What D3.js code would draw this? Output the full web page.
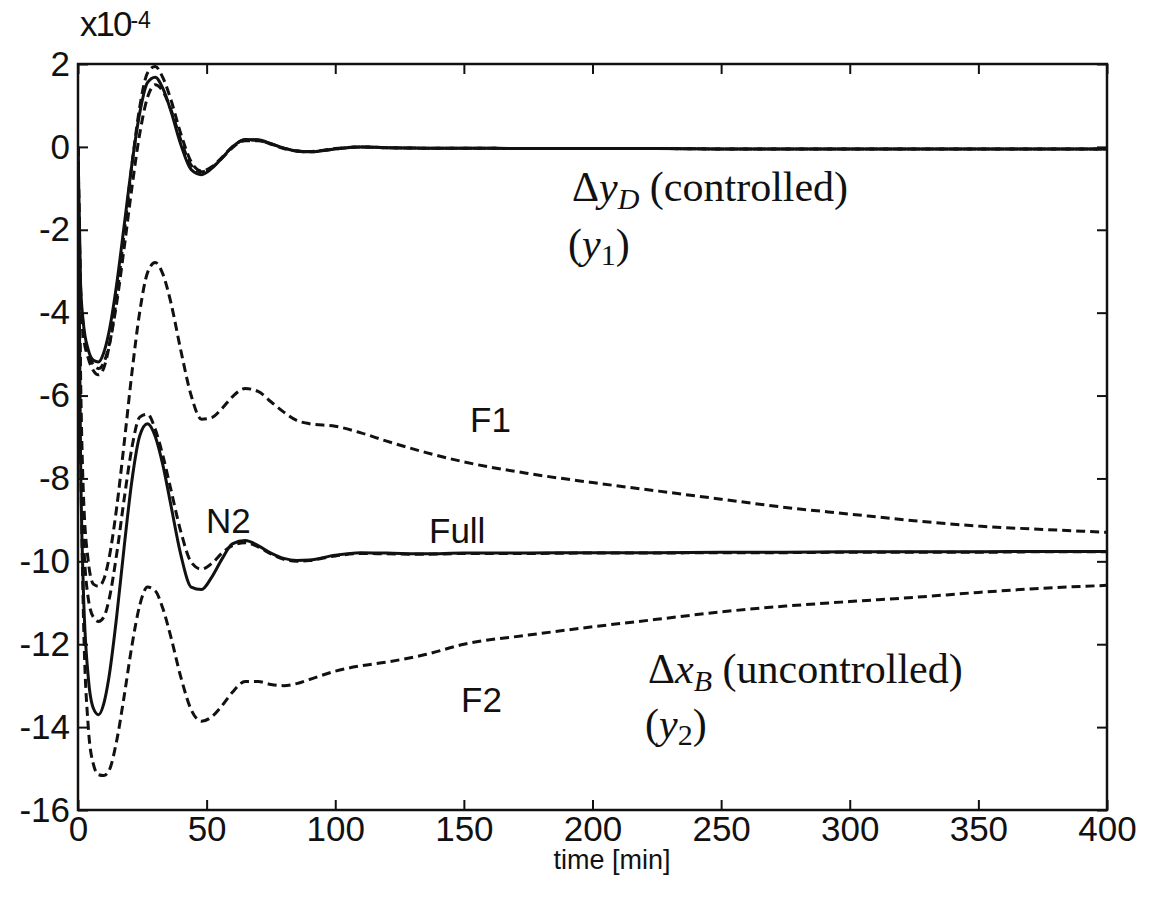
<!DOCTYPE html>
<html lang="en">
<head>
    <meta charset="UTF-8"/>
    <title>Step responses</title>
    <script src="https://d3js.org/d3.v7.min.js"></script>
    <style>
        body { margin: 0; background: #fff; }
        text { font-family: "Liberation Sans", Arial, sans-serif; fill: #111; }
        .tex { font-family: "Liberation Serif", "Times New Roman", serif; }
    </style>
</head>
<body>
<script>
    var w = 1151;
    var h = 919;
    var padLeft = 78, padRight = 1107, padTop = 64, padBottom = 810;

    // time axis samples [min]
    var time = [0, 1, 2, 4, 6, 8, 10, 12, 15, 18, 21, 24, 27, 30, 33, 36, 40, 44, 48, 52, 56, 60,
                65, 70, 75, 80, 85, 90, 100, 110, 120, 135, 150, 175, 200, 225, 250, 275, 300, 325, 350, 375, 400];

    // y1 (controlled output), x1e-4
    var y1Full = [0, -3.3, -4.2, -4.9, -5.15, -5.19, -4.97, -4.48, -3.33, -1.87, -0.40, 0.82, 1.55, 1.68, 1.41, 0.89,
                  0.05, -0.55, -0.67, -0.52, -0.27, 0.0, 0.18, 0.17, 0.08, -0.03, -0.10, -0.12, -0.05, 0.0, -0.02,
                  -0.03, -0.03, -0.04, -0.04, -0.04, -0.05, -0.05, -0.05, -0.05, -0.05, -0.05, -0.05];
    var y1N2 = [0, -3.5, -4.5, -5.1, -5.4, -5.5, -5.34, -4.85, -3.64, -2.05, -0.41, 0.96, 1.78, 1.94, 1.67, 1.16,
                0.31, -0.36, -0.58, -0.48, -0.25, 0.0, 0.17, 0.16, 0.07, -0.04, -0.10, -0.11, -0.04, 0.0, -0.02,
                -0.03, -0.03, -0.04, -0.04, -0.04, -0.05, -0.05, -0.05, -0.05, -0.05, -0.05, -0.05];
    var y1F = [0, -3.4, -4.3, -5.0, -5.25, -5.35, -5.21, -4.81, -3.78, -2.41, -0.96, 0.32, 1.19, 1.50, 1.34, 0.92,
               0.16, -0.44, -0.60, -0.50, -0.27, -0.02, 0.15, 0.15, 0.07, -0.03, -0.10, -0.12, -0.05, 0.0, -0.02,
               -0.03, -0.03, -0.04, -0.04, -0.04, -0.05, -0.05, -0.05, -0.05, -0.05, -0.05, -0.05];

    // y2 (uncontrolled output), x1e-4
    var y2Full = [0, -7.5, -10.5, -12.8, -13.55, -13.7, -13.44, -12.81, -11.35, -9.62, -8.03, -6.97, -6.68, -6.98,
                  -7.68, -8.61, -9.85, -10.62, -10.68, -10.38, -9.94, -9.58, -9.5, -9.62, -9.8, -9.93, -9.98, -9.97,
                  -9.85, -9.79, -9.8, -9.82, -9.8, -9.8, -9.79, -9.79, -9.78, -9.78, -9.77, -9.77, -9.77, -9.76, -9.76];
    var y2N2 = [0, -6.5, -9.2, -10.9, -11.35, -11.45, -11.35, -10.94, -9.84, -8.47, -7.24, -6.52, -6.45, -6.81,
                -7.45, -8.24, -9.29, -10.02, -10.19, -10.05, -9.8, -9.62, -9.55, -9.65, -9.82, -9.95, -10.0, -9.98,
                -9.87, -9.81, -9.82, -9.83, -9.81, -9.81, -9.8, -9.8, -9.79, -9.79, -9.78, -9.78, -9.78, -9.77, -9.77];
    var y2F1 = [0, -5.5, -8.2, -10.0, -10.55, -10.6, -10.44, -9.95, -8.72, -7.12, -5.43, -3.98, -3.04, -2.79,
                -3.07, -3.73, -4.92, -6.0, -6.57, -6.53, -6.31, -6.03, -5.83, -5.9, -6.15, -6.4, -6.6, -6.68,
                -6.74, -6.9, -7.1, -7.37, -7.6, -7.88, -8.1, -8.3, -8.5, -8.7, -8.86, -9.02, -9.15, -9.23, -9.3];
    var y2F2 = [0, -7, -11, -14.0, -14.9, -15.15, -15.17, -15.06, -14.34, -13.23, -12.02, -11.06, -10.62, -10.71,
                -11.14, -11.8, -12.8, -13.58, -13.86, -13.75, -13.48, -13.16, -12.9, -12.9, -12.97, -13.0, -12.95,
                -12.85, -12.65, -12.52, -12.43, -12.25, -12.0, -11.78, -11.58, -11.4, -11.22, -11.08, -10.97,
                -10.87, -10.75, -10.65, -10.58];

    var xTicks = [0, 50, 100, 150, 200, 250, 300, 350, 400];
    var yTicks = [-16, -14, -12, -10, -8, -6, -4, -2, 0, 2];

    var dashedSeries = [y1N2, y1F, y2N2, y2F1, y2F2];
    var solidSeries = [y1Full, y2Full];

    var xScale = d3.scaleLinear().domain([0, 400]).range([padLeft, padRight]);
    var yScale = d3.scaleLinear().domain([-16, 2]).range([padBottom, padTop]);

    var svg = d3.select("body")
        .append("svg")
        .attr("width", w)
        .attr("height", h);

    svg.append("rect")
        .attr("width", w).attr("height", h)
        .attr("fill", "#fff");

    svg.append("clipPath").attr("id", "plot")
        .append("rect")
        .attr("x", padLeft).attr("y", padTop)
        .attr("width", padRight - padLeft).attr("height", padBottom - padTop);

    var line = d3.line()
        .x(function(d, i) { return xScale(time[i]); })
        .y(function(d) { return yScale(d); })
        .curve(d3.curveMonotoneX);

    var plot = svg.append("g").attr("clip-path", "url(#plot)");

    plot.selectAll("path.dash")
        .data(dashedSeries)
        .enter()
        .append("path")
        .attr("class", "dash")
        .attr("d", line)
        .attr("fill", "none")
        .attr("stroke", "#111")
        .attr("stroke-width", 3)
        .attr("stroke-dasharray", "9,5");

    plot.selectAll("path.solid")
        .data(solidSeries)
        .enter()
        .append("path")
        .attr("class", "solid")
        .attr("d", line)
        .attr("fill", "none")
        .attr("stroke", "#111")
        .attr("stroke-width", 3);

    // axes, ticks pointing inward on all four sides
    var fmt = function(d) { return String(d); };

    svg.append("g")
        .attr("transform", "translate(0," + padBottom + ")")
        .call(d3.axisBottom(xScale).tickValues(xTicks).tickSize(-10).tickPadding(6).tickFormat(fmt))
        .call(function(g) { g.select(".domain").remove(); });

    svg.append("g")
        .attr("transform", "translate(0," + padTop + ")")
        .call(d3.axisTop(xScale).tickValues(xTicks).tickSize(-10).tickFormat(""))
        .call(function(g) { g.select(".domain").remove(); });

    svg.append("g")
        .attr("transform", "translate(" + padLeft + ",0)")
        .call(d3.axisLeft(yScale).tickValues(yTicks).tickSize(-10).tickPadding(8).tickFormat(fmt))
        .call(function(g) { g.select(".domain").remove(); });

    svg.append("g")
        .attr("transform", "translate(" + padRight + ",0)")
        .call(d3.axisRight(yScale).tickValues(yTicks).tickSize(-10).tickFormat(""))
        .call(function(g) { g.select(".domain").remove(); });

    svg.selectAll(".tick line").attr("stroke", "#111").attr("stroke-width", 2);
    svg.selectAll(".tick text")
        .attr("font-size", "35px")
        .attr("font-family", "'Liberation Sans', Arial, sans-serif")
        .attr("fill", "#111");

    svg.append("rect")
        .attr("x", padLeft).attr("y", padTop)
        .attr("width", padRight - padLeft).attr("height", padBottom - padTop)
        .attr("fill", "none")
        .attr("stroke", "#111")
        .attr("stroke-width", 2.5);

    // exponent
    var ex = svg.append("text").attr("x", 80).attr("y", 36).attr("font-size", "35px")
        .attr("letter-spacing", "-2px");
    ex.append("tspan").text("x10");
    ex.append("tspan").attr("dy", -8).attr("font-size", "23px").attr("letter-spacing", "0px").text("-4");

    svg.append("text")
        .attr("x", 612).attr("y", 869)
        .attr("text-anchor", "middle")
        .attr("font-size", "27px")
        .text("time [min]");

    // curve labels
    var labels = [["F1", 470, 432], ["N2", 206, 533], ["Full", 429, 543], ["F2", 461, 712]];
    svg.selectAll("text.lab")
        .data(labels)
        .enter()
        .append("text")
        .attr("class", "lab")
        .attr("x", function(d) { return d[1]; })
        .attr("y", function(d) { return d[2]; })
        .attr("font-size", "35px")
        .text(function(d) { return d[0]; });

    function mathLabel(x, y, v, sub, rest) {
        var t = svg.append("text").attr("class", "tex").attr("x", x).attr("y", y).attr("font-size", "42px");
        t.append("tspan").text("\u0394");
        t.append("tspan").attr("font-style", "italic").text(v);
        t.append("tspan").attr("font-style", "italic").attr("font-size", "30px").attr("dy", 8).text(sub);
        t.append("tspan").attr("dy", -8).text(rest);
    }
    function outLabel(x, y, v, sub) {
        var t = svg.append("text").attr("class", "tex").attr("x", x).attr("y", y).attr("font-size", "42px");
        t.append("tspan").text("(");
        t.append("tspan").attr("font-style", "italic").text(v);
        t.append("tspan").attr("font-size", "30px").attr("dy", 7).text(sub);
        t.append("tspan").attr("dy", -7).text(")");
    }

    mathLabel(572, 201, "y", "D", " (controlled)");
    outLabel(568, 258, "y", "1");
    mathLabel(648, 683, "x", "B", " (uncontrolled)");
    outLabel(645, 738, "y", "2");
</script>
</body>
</html>
